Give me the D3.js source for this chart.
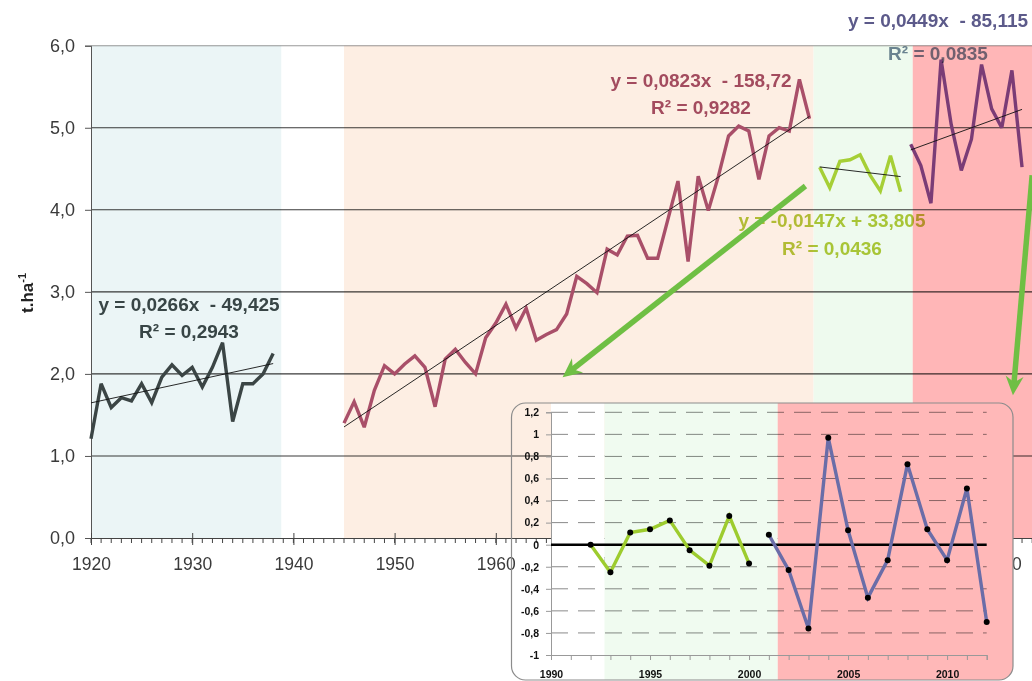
<!DOCTYPE html>
<html>
<head>
<meta charset="utf-8">
<script src="https://cdn.jsdelivr.net/npm/d3@7/dist/d3.min.js"></script>
<style>
  body { margin: 0; background: #fff; }
  svg { display: block; font-family: "Liberation Sans", Arial, sans-serif; }
  .eq { font-weight: bold; font-size: 19px; white-space: pre; mix-blend-mode: multiply; }
  .grid { mix-blend-mode: multiply; }
  .inset-lbl { font-family: "Liberation Sans", Arial, sans-serif; font-weight: bold; font-size: 10.5px; fill: #111; }
</style>
</head>
<body>
<svg id="chart" width="1032" height="681"></svg>
<script>
// yields in t/ha, one array per period
const startYears = [1920, 1945, 1992, 2001];
const yield1920s = [1.21, 1.88, 1.59, 1.71, 1.67, 1.88, 1.65, 1.96, 2.11, 1.98, 2.08, 1.84, 2.08, 2.38, 1.42, 1.88, 1.88, 2.0, 2.25];
const yieldPostwar = [1.40, 1.66, 1.35, 1.80, 2.10, 2.0, 2.12, 2.22, 2.08, 1.60, 2.18, 2.30, 2.14, 2.0, 2.44, 2.62,
  2.85, 2.56, 2.80, 2.41, 2.48, 2.54, 2.73, 3.19, 3.10, 2.99, 3.52, 3.45, 3.68, 3.69, 3.41, 3.41, 3.88, 4.35, 3.37,
  4.41, 3.99, 4.41, 4.90, 5.02, 4.96, 4.37, 4.90, 5.0, 4.96, 5.59, 5.11];
const yield1990s = [4.52, 4.27, 4.59, 4.61, 4.67, 4.42, 4.23, 4.66, 4.22];
const yield2000s = [4.80, 4.54, 4.08, 5.83, 5.04, 4.48, 4.86, 5.77, 5.23, 5.00, 5.70, 4.52];

// trend lines as printed on the chart
const trendSlopes = [0.0266, 0.0823, -0.0147, 0.0449];
const trendIntercepts = [-49.425, -158.72, 33.805, -85.115];
const eqLabels = ['y = 0,0266x  - 49,425', 'y = 0,0823x  - 158,72', 'y = -0,0147x + 33,805', 'y = 0,0449x  - 85,115'];
const r2Labels = ['R\u00b2 = 0,2943', 'R\u00b2 = 0,9282', 'R\u00b2 = 0,0436', 'R\u00b2 = 0,0835'];

// background periods (years)
const bandYears = [[1920, 1938.8], [1945, 1991.4], [1991.4, 2001.2], [2001.2, 2030]];
const yTicks = [0, 1, 2, 3, 4, 5, 6];
const xMajor = [1920, 1930, 1940, 1950, 1960, 1970, 1980, 1990, 2000, 2010];

// inset: deviations from trend
const insetStarts = [1992, 2001];
const devs1990s = [0, -0.25, 0.11, 0.14, 0.22, -0.05, -0.19, 0.26, -0.17];
const devs2000s = [0.09, -0.23, -0.76, 0.97, 0.13, -0.48, -0.14, 0.73, 0.14, -0.14, 0.51, -0.70];
const insetBandYears = [[1990, 1992.7], [1992.7, 2001.45], [2001.45, 2014]];
const insetYTicks = [-1, -0.8, -0.6, -0.4, -0.2, 0, 0.2, 0.4, 0.6, 0.8, 1, 1.2];
const insetXLabels = [1990, 1995, 2000, 2005, 2010];

// arrows, [year, t/ha] from -> to
const arrows = [[[1990.6, 4.29], [1966.6, 1.96]], [[2013.0, 4.42], [2011.1, 1.74]]];

// styles
const bandColors = ['#ebf5f6', '#fdeee3', '#eefaee', '#ffb6b7'];
const lineColors = ['#3b4545', '#a94f69', '#a6cf36', '#7b3c76'];
const eqColors = ['#3c4848', '#a4506a', '#b4c93a', '#5c5a8a'];
const r2Colors = ['#3c4848', '#a4506a', '#b4c93a', '#72869a'];
const eqPos = [[189, 311], [701, 87], [832, 227], [938, 27]];
const r2Pos = [[189, 338], [701, 114], [832, 255], [938, 60]];
const insetBandColors = ['#ffffff', '#f0fbf0', '#ffb8b8'];
const insetLineColors = ['#9dcc2e', '#6a6da8'];

const svg = d3.select('#chart');
const loc = d3.formatLocale({decimal: ',', thousands: ' ', grouping: [3], currency: ['', ''], minus: '-'});

const x = d3.scaleLinear().domain([1920, 2020]).range([91, 1103]);
const y = d3.scaleLinear().domain([0, 6]).range([538, 45.7]);

// bands
svg.append('g').selectAll('rect')
    .data(bandYears).enter()
    .append('rect')
    .attr('x', d => x(d[0]))
    .attr('width', d => x(d[1]) - x(d[0]))
    .attr('y', y(6))
    .attr('height', y(0) - y(6))
    .attr('fill', (d, i) => bandColors[i]);

// horizontal grid
svg.append('g').selectAll('line')
    .data(yTicks.filter(v => v > 0)).enter()
    .append('line')
    .attr('class', 'grid')
    .attr('x1', x(1920)).attr('x2', 1032)
    .attr('y1', d => y(d)).attr('y2', d => y(d))
    .attr('stroke', d => d === 6 ? '#999' : '#3a3a3a')
    .attr('stroke-width', 1.1);

// y axis
const yAxis = svg.append('g')
    .attr('transform', `translate(${x(1920)},0)`)
    .call(d3.axisLeft(y).tickValues(yTicks).tickSize(6).tickPadding(10).tickFormat(loc.format('.1f')));
yAxis.select('.domain').attr('stroke', '#555');
yAxis.selectAll('.tick line').attr('stroke', '#555');
yAxis.selectAll('text').attr('font-size', 18).attr('fill', '#3a3a3a').attr('font-family', '"Liberation Sans", Arial, sans-serif');

// x axis
const xg = svg.append('g').attr('transform', `translate(0,${y(0)})`);
xg.call(d3.axisBottom(x).tickValues(xMajor).tickSize(7).tickPadding(13).tickFormat(d3.format('d')));
xg.select('.domain').attr('stroke', '#444');
xg.selectAll('.tick line').attr('stroke', '#444').attr('y1', -5);
xg.selectAll('text').attr('font-size', 17.5).attr('fill', '#3a3a3a').attr('font-family', '"Liberation Sans", Arial, sans-serif');
xg.append('g').selectAll('line')
    .data(d3.range(1920, 2021)).enter()
    .append('line')
    .attr('x1', d => x(d)).attr('x2', d => x(d))
    .attr('y1', 0).attr('y2', 5)
    .attr('stroke', '#444');

// y title
svg.append('text')
    .attr('transform', 'translate(33,293) rotate(-90)')
    .attr('text-anchor', 'middle')
    .attr('font-weight', 'bold')
    .attr('font-size', 17)
    .attr('fill', '#222')
    .text('t.ha')
    .append('tspan').attr('dy', -7).attr('font-size', 11).text('-1');

// series and trends
const allSeries = [yield1920s, yieldPostwar, yield1990s, yield2000s];
const line = d3.line().x(d => x(d[0])).y(d => y(d[1]));

allSeries.forEach((vals, k) => {
    const pts = vals.map((v, i) => [startYears[k] + i, v]);
    svg.append('path')
        .attr('d', line(pts))
        .attr('fill', 'none')
        .attr('stroke', lineColors[k])
        .attr('stroke-width', 3.4)
        .attr('stroke-linejoin', 'miter')
        .attr('stroke-miterlimit', 3);
    const first = startYears[k], last = startYears[k] + vals.length - 1;
    const trend = [first, last].map(t => [t, trendSlopes[k] * t + trendIntercepts[k]]);
    svg.append('path')
        .attr('d', line(trend))
        .attr('stroke', '#111')
        .attr('stroke-width', 0.9);
});

// equations
eqLabels.forEach((t, k) => {
    svg.append('text').attr('class', 'eq')
        .attr('x', eqPos[k][0]).attr('y', eqPos[k][1])
        .attr('text-anchor', 'middle')
        .attr('fill', eqColors[k])
        .text(t);
    svg.append('text').attr('class', 'eq')
        .attr('x', r2Pos[k][0]).attr('y', r2Pos[k][1])
        .attr('text-anchor', 'middle')
        .attr('fill', r2Colors[k])
        .text(r2Labels[k]);
});

// arrows
svg.append('defs').append('marker')
    .attr('id', 'head')
    .attr('viewBox', '-20 -10 22 20')
    .attr('markerWidth', 22).attr('markerHeight', 20)
    .attr('refX', 0).attr('refY', 0)
    .attr('orient', 'auto')
    .attr('markerUnits', 'userSpaceOnUse')
    .append('path')
    .attr('d', 'M0,0 L-19,-9 L-13,0 L-19,9 Z')
    .attr('fill', '#6fbf44');

arrows.forEach(a => {
    const x1 = x(a[0][0]), y1 = y(a[0][1]), x2 = x(a[1][0]), y2 = y(a[1][1]);
    const len = Math.hypot(x2 - x1, y2 - y1);
    const ux = (x2 - x1) / len, uy = (y2 - y1) / len;
    svg.append('line')
        .attr('x1', x1).attr('y1', y1)
        .attr('x2', x2 - ux * 12).attr('y2', y2 - uy * 12)
        .attr('stroke', '#6fbf44')
        .attr('stroke-width', 5.5);
    svg.append('line')
        .attr('x1', x2 - ux * 13).attr('y1', y2 - uy * 13)
        .attr('x2', x2).attr('y2', y2)
        .attr('stroke', 'none')
        .attr('marker-end', 'url(#head)');
});

// ---- inset ----
const box = {x: 511.5, y: 403, w: 501.5, h: 277};
const ix = d3.scaleLinear().domain([1990, 2012]).range([551, 986.7]);
const iy = d3.scaleLinear().domain([-1, 1.2]).range([655, 412.3]);
const inset = svg.append('g');

inset.append('clipPath').attr('id', 'boxclip')
    .append('rect')
    .attr('x', box.x).attr('y', box.y).attr('width', box.w).attr('height', box.h).attr('rx', 14);

inset.append('g').attr('clip-path', 'url(#boxclip)')
    .selectAll('rect')
    .data(insetBandYears).enter()
    .append('rect')
    .attr('x', d => ix(d[0]))
    .attr('width', d => ix(d[1]) - ix(d[0]))
    .attr('y', box.y - 2)
    .attr('height', box.h + 4)
    .attr('fill', (d, i) => insetBandColors[i]);

inset.append('g').selectAll('line')
    .data(insetYTicks.filter(v => v !== 0 && v !== -1)).enter()
    .append('line')
    .attr('class', 'grid')
    .attr('x1', ix(1990)).attr('x2', ix(2012))
    .attr('y1', d => iy(d)).attr('y2', d => iy(d))
    .attr('stroke', '#8a8a8a')
    .attr('stroke-width', 1)
    .attr('stroke-dasharray', '17,10');

const iyAxis = inset.append('g')
    .attr('transform', `translate(${ix(1990)},0)`)
    .call(d3.axisLeft(iy).tickValues(insetYTicks).tickSize(5).tickPadding(7).tickFormat(loc.format('.1~f')));
iyAxis.select('.domain').attr('stroke', '#999');
iyAxis.selectAll('.tick line').attr('stroke', '#999');
iyAxis.selectAll('text').attr('class', 'inset-lbl').attr('font-family', null).attr('font-size', null);

const ixAxis = inset.append('g')
    .attr('transform', `translate(0,${iy(-1)})`)
    .call(d3.axisBottom(ix).tickValues(d3.range(1990, 2013)).tickSize(5).tickPadding(11)
        .tickFormat(d => insetXLabels.includes(d) ? d : ''));
ixAxis.select('.domain').attr('stroke', '#999');
ixAxis.selectAll('.tick line').attr('stroke', '#999');
ixAxis.selectAll('text').attr('class', 'inset-lbl').attr('font-family', null).attr('font-size', null);

inset.append('line')
    .attr('x1', ix(1990)).attr('x2', ix(2012))
    .attr('y1', iy(0)).attr('y2', iy(0))
    .attr('stroke', '#000')
    .attr('stroke-width', 2.6);

[devs1990s, devs2000s].forEach((vals, k) => {
    const pts = vals.map((v, i) => [insetStarts[k] + i, v]);
    inset.append('path')
        .attr('d', d3.line().x(d => ix(d[0])).y(d => iy(d[1]))(pts))
        .attr('fill', 'none')
        .attr('stroke', insetLineColors[k])
        .attr('stroke-width', 3.4);
    inset.append('g').selectAll('circle')
        .data(pts).enter()
        .append('circle')
        .attr('cx', d => ix(d[0])).attr('cy', d => iy(d[1]))
        .attr('r', 3)
        .attr('fill', '#000');
});

inset.append('rect')
    .attr('x', box.x).attr('y', box.y).attr('width', box.w).attr('height', box.h).attr('rx', 14)
    .attr('fill', 'none')
    .attr('stroke', '#8c8c8c')
    .attr('stroke-width', 1.2);
</script>
</body>
</html>
